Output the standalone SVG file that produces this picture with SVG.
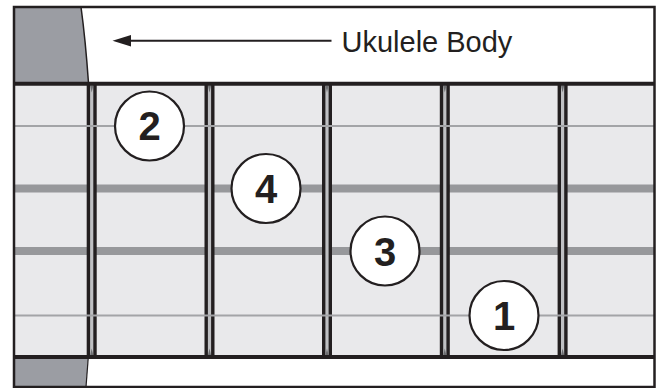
<svg xmlns="http://www.w3.org/2000/svg" width="657" height="388" viewBox="0 0 657 388">
<style>
.fretdark{fill:#231f20}
.fretgap{fill:#bfc0c3}
.tri{fill:#6d6e71}
.thin{stroke:#a3a4a7;stroke-width:2}
.thick{stroke:#97989b;stroke-width:8}
.dot circle{fill:#fff;stroke:#231f20;stroke-width:2.2}
.dot text{font-family:"Liberation Sans",Arial,sans-serif;font-weight:bold;font-size:40px;fill:#231f20;text-anchor:middle}
</style>
<defs>
<g id="fret">
<rect class="fretdark" x="-5" y="84" width="10" height="273"/>
<rect class="fretgap" x="-1.6" y="84" width="3.2" height="273"/>
<polygon class="tri" points="-1.6,85.5 1.6,85.5 0,92.5"/>
<polygon class="tri" points="-1.6,355.5 1.6,355.5 0,348.5"/>
</g>
</defs>
<g id="body">
<rect x="14" y="7" width="640.5" height="380" fill="#fff"/>
<path d="M14,7 L81,7 Q85.5,40 88.5,83 L14,83 Z" fill="#9b9da3"/>
<path d="M81,7 Q85.5,40 88.5,83" fill="none" stroke="#231f20" stroke-width="1.5"/>
<path d="M14,357 L88.3,357 L86,387 L14,387 Z" fill="#9b9da3"/>
<path d="M88.3,357 L86,387" fill="none" stroke="#231f20" stroke-width="1.2"/>
</g>
<g id="fretboard">
<rect x="14" y="83.5" width="640.5" height="273.5" fill="#e9e9eb"/>
</g>
<g id="strings-thick">
<line class="thick" x1="14" y1="188.5" x2="654" y2="188.5"/>
<line class="thick" x1="14" y1="251" x2="654" y2="251"/>
</g>
<g id="frets">
<use href="#fret" x="91.7"/>
<use href="#fret" x="209.5"/>
<use href="#fret" x="327"/>
<use href="#fret" x="444.8"/>
<use href="#fret" x="562.6"/>
</g>
<g id="strings-thin">
<line class="thin" x1="14" y1="126" x2="654" y2="126"/>
<line class="thin" x1="14" y1="315.5" x2="654" y2="315.5"/>
</g>
<g id="frame" fill="none" stroke="#231f20">
<line x1="14" y1="83.7" x2="654.5" y2="83.7" stroke-width="4"/>
<line x1="14" y1="357" x2="654.5" y2="357" stroke-width="4"/>
<rect x="14" y="7" width="640.5" height="380" stroke-width="2.5"/>
</g>
<g id="connectors">
<line x1="128" y1="40.7" x2="331.5" y2="40.7" stroke="#231f20" stroke-width="2"/>
<polygon points="112.5,40.7 131,35 131,46.5" fill="#231f20"/>
</g>
<g id="label">
<text x="341.5" y="51.7" font-family="'Liberation Sans',Arial,sans-serif" font-size="29" fill="#231f20">Ukulele Body</text>
</g>
<g id="finger2" class="dot"><circle cx="149.5" cy="126" r="34.5"/><text x="149.5" y="140.3">2</text></g>
<g id="finger4" class="dot"><circle cx="266" cy="188.5" r="34.5"/><text x="266" y="203">4</text></g>
<g id="finger3" class="dot"><circle cx="385" cy="251" r="34.5"/><text x="385" y="265.5">3</text></g>
<g id="finger1" class="dot"><circle cx="504" cy="315.5" r="34.5"/><text x="504" y="330">1</text></g>
</svg>
